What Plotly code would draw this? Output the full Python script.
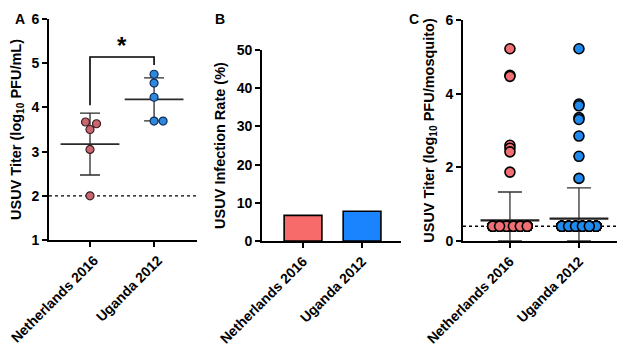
import numpy as np
import plotly.graph_objects as go

groups = ["Netherlands 2016", "Uganda 2012"]

# Panel A: titers (log10 PFU/mL)
a_nl = [2.00, 3.05, 3.50, 3.63, 3.67]
a_ug = [3.69, 3.69, 4.23, 4.55, 4.75]
a_lod = 2.0
bracket_y = [4.05, 5.14, 5.14, 4.96]
star_y = 5.40

# Panel B: infection rate (%)
b_rate = [6.7, 7.8]

# Panel C: titers (log10 PFU/mosquito)
c_lod = 0.4
c_nl_pos = [5.22, 4.50, 4.47, 2.60, 2.52, 2.42, 1.87]
c_ug_pos = [5.22, 3.72, 3.67, 3.35, 3.30, 2.85, 2.30, 1.70]
c_nl_neg_count = 98
c_ug_neg_count = 95
c_mean = [0.56, 0.61]
c_sd = [0.77, 0.83]

FONT = "Arial, Liberation Sans, sans-serif"
col_a = ["#CB6670", "#2F88DD"]
col_b = ["#F86B6B", "#1A84FF"]
col_c = ["#F06F74", "#1E8AEE"]

# the page places the figure at (8, 8) (body margin)
OFFX, OFFY = 8, 8
W, H = 625 - OFFX, 347 - OFFY


def fx(px):
    return (px - OFFX) / W


def fy(py):
    return 1 - (py - OFFY) / H


def beeswarm(vals, px_x, px_y, diam):
    placed = []
    offs = []
    for v in vals:
        k = 0
        step = 0.5
        while True:
            cands = [0.0] if k == 0 else [k * step, -k * step]
            ok_c = None
            for c in cands:
                if all((c - px) ** 2 + ((v - pv) * px_y) ** 2 >= diam ** 2 for px, pv in placed):
                    ok_c = c
                    break
            if ok_c is not None:
                placed.append((ok_c, v))
                offs.append(ok_c / px_x)
                break
            k += 1
    return offs


fig = go.Figure()

# ---------- Panel A ----------
for i, vals in enumerate([a_nl, a_ug]):
    m = float(np.mean(vals))
    s = float(np.std(vals, ddof=1))
    fig.add_trace(go.Scatter(
        x=[i], y=[m], mode="markers", xaxis="x", yaxis="y",
        marker=dict(symbol="line-ew", size=42, line=dict(width=1.6, color="#2b2b2b")),
        error_y=dict(type="data", array=[s], color="#2b2b2b", thickness=1.3, width=10),
        showlegend=False, hoverinfo="skip"))
    offs = beeswarm(vals, 64.0, 44.2, 8.6)
    fig.add_trace(go.Scatter(
        x=[i + o for o in offs], y=vals, mode="markers", xaxis="x", yaxis="y",
        marker=dict(size=8, color=col_a[i], line=dict(width=1.2, color="#3a2020" if i == 0 else "#10305a")),
        showlegend=False, cliponaxis=False))

fig.add_trace(go.Scatter(
    x=[0, 0, 1, 1], y=bracket_y, mode="lines", xaxis="x", yaxis="y",
    line=dict(color="black", width=1.6), showlegend=False, hoverinfo="skip"))

# ---------- Panel B ----------
fig.add_trace(go.Bar(
    x=[0, 1], y=b_rate, xaxis="x2", yaxis="y2", width=0.64,
    marker=dict(color=col_b, line=dict(color="black", width=1.6)),
    showlegend=False))

# ---------- Panel C ----------
n_slots = 6
slots = np.linspace(-0.25, 0.25, n_slots)
for i, (pos, nneg) in enumerate([(c_nl_pos, c_nl_neg_count), (c_ug_pos, c_ug_neg_count)]):
    fig.add_trace(go.Scatter(
        x=[i], y=[c_mean[i]], mode="markers", xaxis="x3", yaxis="y3",
        marker=dict(symbol="line-ew", size=42, line=dict(width=2.2, color="#222")),
        error_y=dict(type="data", array=[c_sd[i]], arrayminus=[c_mean[i]], symmetric=False,
                     color="#333", thickness=1.3, width=12),
        showlegend=False, hoverinfo="skip"))
    negs = [c_lod] * nneg
    xs = [float(slots[k % n_slots]) for k in range(nneg)] + [0.0] * len(pos)
    ys = negs + pos
    fig.add_trace(go.Scatter(
        x=[i + v for v in xs], y=ys, mode="markers", xaxis="x3", yaxis="y3",
        marker=dict(size=10, color=col_c[i], line=dict(width=1.6, color="black")),
        showlegend=False, cliponaxis=False))

axis_common = dict(showline=True, linecolor="black", linewidth=1.6, ticks="outside",
                   ticklen=5, tickwidth=1.6, tickcolor="black", showgrid=False, zeroline=False,
                   automargin=False,
                   tickfont=dict(family=FONT, size=14, color="black", weight="bold"))
xcommon = dict(axis_common, tickvals=[0, 1], ticktext=groups, tickangle=-45, fixedrange=True,
               ticklabeloverflow="allow",
               tickfont=dict(family=FONT, size=14, color="black", weight="bold"))
ytitle_font = dict(family=FONT, size=14.5, color="black", weight="bold")

fig.update_layout(
    width=W, height=H, margin=dict(l=0, r=0, t=0, b=0, autoexpand=False),
    plot_bgcolor="white", paper_bgcolor="white",
    font=dict(family=FONT, color="black"),
    xaxis=dict(xcommon, domain=[fx(49), fx(197)], range=[-0.64, 1.67], anchor="y",
               ticklabelshift=4),
    yaxis=dict(axis_common, domain=[fy(240), fy(19)], range=[1, 6], dtick=1, anchor="x",
               title=dict(text="USUV Titer (log<sub>10</sub> PFU/mL)", font=ytitle_font, standoff=8)),
    xaxis2=dict(xcommon, domain=[fx(262), fx(401)], range=[-0.695, 1.66], anchor="y2"),
    yaxis2=dict(axis_common, domain=[fy(241), fy(50)], range=[0, 50], dtick=10, anchor="x2",
                title=dict(text="USUV Infection Rate (%)", font=ytitle_font, standoff=8)),
    xaxis3=dict(xcommon, domain=[fx(463), 1.0], range=[-0.68, 1.667], anchor="y3"),
    yaxis3=dict(axis_common, domain=[fy(241), fy(20)], range=[0, 6], dtick=2, anchor="x3",
                title=dict(text="USUV Titer (log<sub>10</sub> PFU/mosquito)", font=ytitle_font, standoff=8)),
    shapes=[
        dict(type="line", xref="x domain", yref="y", x0=0, x1=1, y0=a_lod, y1=a_lod,
             line=dict(color="black", width=1.3, dash="dot"), layer="below"),
        dict(type="line", xref="x3 domain", yref="y3", x0=0, x1=1, y0=c_lod, y1=c_lod,
             line=dict(color="black", width=1.3, dash="dot"), layer="below"),
    ],
    annotations=[
        dict(text="<b>A</b>", x=fx(13), y=fy(9), xref="paper", yref="paper",
             showarrow=False, font=dict(family=FONT, size=14)),
        dict(text="<b>B</b>", x=fx(220), y=fy(9), xref="paper", yref="paper",
             showarrow=False, font=dict(family=FONT, size=14)),
        dict(text="<b>C</b>", x=fx(421), y=fy(9), xref="paper", yref="paper",
             showarrow=False, font=dict(family=FONT, size=14)),
        dict(text="<b>*</b>", x=0.5, y=star_y, xref="x", yref="y", showarrow=False,
             font=dict(family=FONT, size=24, color="black")),
    ],
)

fig.write_html("out.html")
